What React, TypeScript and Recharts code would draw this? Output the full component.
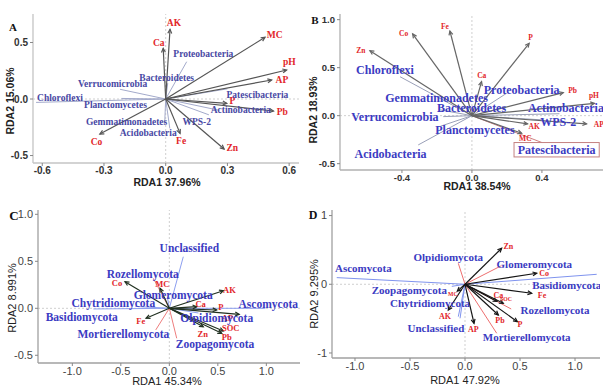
import { ScatterChart, Scatter, XAxis, YAxis, ReferenceLine } from 'recharts'

type Item = { name: string; x: number; y: number; lx: number; ly: number }

// A: bacteria, RDA1 37.96% / RDA2 15.06%
const envA: Item[] = [
  { name: 'AK', x: 0.021, y: 0.617, lx: 0.04, ly: 0.675 },
  { name: 'Ca', x: -0.012, y: 0.449, lx: -0.034, ly: 0.498 },
  { name: 'MC', x: 0.483, y: 0.546, lx: 0.53, ly: 0.566 },
  { name: 'pH', x: 0.588, y: 0.257, lx: 0.601, ly: 0.325 },
  { name: 'AP', x: 0.515, y: 0.168, lx: 0.565, ly: 0.168 },
  { name: 'P', x: 0.297, y: -0.038, lx: 0.324, ly: -0.018 },
  { name: 'Pb', x: 0.524, y: -0.106, lx: 0.567, ly: -0.118 },
  { name: 'Zn', x: 0.284, y: -0.442, lx: 0.324, ly: -0.431 },
  { name: 'Fe', x: 0.07, y: -0.304, lx: 0.075, ly: -0.372 },
  { name: 'Co', x: -0.32, y: -0.31, lx: -0.336, ly: -0.378 },
]
const taxaA: Item[] = [
  { name: 'Proteobacteria', x: 0.102, y: 0.33, lx: 0.183, ly: 0.395 },
  { name: 'Bacteroidetes', x: 0.01, y: 0.14, lx: 0.005, ly: 0.189 },
  { name: 'Verrucomicrobia', x: -0.222, y: 0.086, lx: -0.258, ly: 0.13 },
  { name: 'Chloroflexi', x: -0.63, y: -0.03, lx: -0.514, ly: 0.012 },
  { name: 'Planctomycetes', x: -0.215, y: 0.005, lx: -0.244, ly: -0.056 },
  { name: 'Gemmatimonadetes', x: -0.005, y: -0.22, lx: -0.19, ly: -0.204 },
  { name: 'Acidobacteria', x: 0.02, y: -0.26, lx: -0.085, ly: -0.298 },
  { name: 'Patescibacteria', x: 0.3, y: 0.09, lx: 0.446, ly: 0.035 },
  { name: 'Actinobacteria', x: 0.26, y: -0.1, lx: 0.365, ly: -0.1 },
  { name: 'WPS-2', x: 0.21, y: -0.14, lx: 0.151, ly: -0.206 },
]

// B: bacteria, RDA1 38.54% / RDA2 18.93%
const envB: Item[] = [
  { name: 'Co', x: -0.339, y: 0.851, lx: -0.39, ly: 0.86 },
  { name: 'Fe', x: -0.126, y: 0.882, lx: -0.154, ly: 0.934 },
  { name: 'Zn', x: -0.583, y: 0.677, lx: -0.635, ly: 0.68 },
  { name: 'P', x: 0.327, y: 0.754, lx: 0.335, ly: 0.813 },
  { name: 'Ca', x: 0.055, y: 0.354, lx: 0.056, ly: 0.42 },
  { name: 'Pb', x: 0.522, y: 0.24, lx: 0.575, ly: 0.26 },
  { name: 'pH', x: 0.7, y: 0.128, lx: 0.697, ly: 0.205 },
  { name: 'AP', x: 0.655, y: -0.085, lx: 0.725, ly: -0.09 },
  { name: 'AK', x: 0.318, y: -0.086, lx: 0.356, ly: -0.116 },
  { name: 'MC', x: 0.284, y: -0.183, lx: 0.305, ly: -0.243 },
]
const taxaB: Item[] = [
  { name: 'Chloroflexi', x: -0.411, y: 0.406, lx: -0.497, ly: 0.476 },
  { name: 'Gemmatimonadetes', x: -0.18, y: 0.06, lx: -0.202, ly: 0.188 },
  { name: 'Bacteroidetes', x: -0.03, y: 0.06, lx: -0.002, ly: 0.077 },
  { name: 'Verrucomicrobia', x: -0.164, y: -0.01, lx: -0.44, ly: -0.01 },
  { name: 'Planctomycetes', x: -0.18, y: -0.11, lx: 0.017, ly: -0.149 },
  { name: 'Acidobacteria', x: -0.307, y: -0.305, lx: -0.465, ly: -0.399 },
  { name: 'Proteobacteria', x: 0.198, y: 0.233, lx: 0.284, ly: 0.268 },
  { name: 'Actinobacteria', x: 0.5, y: 0.02, lx: 0.537, ly: 0.077 },
  { name: 'WPS-2', x: 0.41, y: -0.045, lx: 0.493, ly: -0.062 },
  { name: 'Patescibacteria', x: 0.4, y: -0.28, lx: 0.484, ly: -0.355 },
]

// C: fungi, RDA1 45.34% / RDA2 8.991%
const envC: Item[] = [
  { name: 'Co', x: -0.457, y: 0.283, lx: -0.54, ly: 0.27 },
  { name: 'MC', x: -0.096, y: 0.213, lx: -0.072, ly: 0.262 },
  { name: 'AK', x: 0.557, y: 0.187, lx: 0.62, ly: 0.19 },
  { name: 'Ca', x: 0.282, y: 0.017, lx: 0.323, ly: 0.046 },
  { name: 'P', x: 0.488, y: -0.018, lx: 0.53, ly: 0.01 },
  { name: 'AP', x: 0.72, y: -0.065, lx: 0.6, ly: -0.1 },
  { name: 'Fe', x: -0.24, y: -0.106, lx: -0.295, ly: -0.135 },
  { name: 'SOC', x: 0.557, y: -0.241, lx: 0.633, ly: -0.213 },
  { name: 'Pb', x: 0.54, y: -0.266, lx: 0.592, ly: -0.309 },
  { name: 'Zn', x: 0.35, y: -0.196, lx: 0.344, ly: -0.278 },
]
const taxaC: Item[] = [
  { name: 'Unclassified', x: 0.144, y: 0.549, lx: 0.206, ly: 0.645 },
  { name: 'Rozellomycota', x: -0.165, y: 0.319, lx: -0.274, ly: 0.365 },
  { name: 'Glomeromycota', x: -0.02, y: 0.12, lx: 0.04, ly: 0.141 },
  { name: 'Chytridiomycota', x: -0.35, y: 0.02, lx: -0.577, ly: 0.053 },
  { name: 'Basidiomycota', x: -0.783, y: -0.007, lx: -0.903, ly: -0.089 },
  { name: 'Ascomycota', x: 0.99, y: 0.0, lx: 1.02, ly: 0.042 },
  { name: 'Olpidiomycota', x: 0.3, y: -0.05, lx: 0.489, ly: -0.106 },
  { name: 'Mortierellomycota', x: -0.14, y: -0.23, lx: -0.474, ly: -0.277 },
  { name: 'Zoopagomycota', x: 0.076, y: -0.319, lx: 0.471, ly: -0.383 },
]
const redC = ['Rozellomycota', 'Mortierellomycota', 'Zoopagomycota']

// D: fungi, RDA1 47.92% / RDA2 9.295%
const envD: Item[] = [
  { name: 'Zn', x: 0.333, y: 0.524, lx: 0.394, ly: 0.548 },
  { name: 'Co', x: 0.652, y: 0.16, lx: 0.72, ly: 0.16 },
  { name: 'Fe', x: 0.606, y: -0.131, lx: 0.7, ly: -0.17 },
  { name: 'Ca', x: 0.29, y: -0.25, lx: 0.303, ly: -0.165 },
  { name: 'SOC', x: 0.348, y: -0.277, lx: 0.373, ly: -0.218 },
  { name: 'Pb', x: 0.303, y: -0.447, lx: 0.318, ly: -0.534 },
  { name: 'P', x: 0.476, y: -0.544, lx: 0.5, ly: -0.592 },
  { name: 'AK', x: -0.152, y: -0.374, lx: -0.182, ly: -0.471 },
  { name: 'AP', x: 0.082, y: -0.568, lx: 0.076, ly: -0.665 },
  { name: 'MC', x: -0.07, y: -0.1, lx: -0.11, ly: -0.14 },
]
const taxaD: Item[] = [
  { name: 'Ascomycota', x: -1.166, y: 0.097, lx: -0.924, ly: 0.233 },
  { name: 'Basidiomycota', x: 1.197, y: 0.145, lx: 0.924, ly: -0.01 },
  { name: 'Olpidiomycota', x: -0.061, y: 0.305, lx: -0.152, ly: 0.393 },
  { name: 'Glomeromycota', x: 0.33, y: 0.27, lx: 0.63, ly: 0.291 },
  { name: 'Zoopagomycota', x: -0.12, y: -0.03, lx: -0.506, ly: -0.083 },
  { name: 'Chytridiomycota', x: -0.061, y: -0.471, lx: -0.318, ly: -0.277 },
  { name: 'Rozellomycota', x: 0.42, y: -0.36, lx: 0.818, ly: -0.374 },
  { name: 'Unclassified', x: -0.045, y: -0.495, lx: -0.264, ly: -0.641 },
  { name: 'Mortierellomycota', x: 0.288, y: -0.713, lx: 0.561, ly: -0.762 },
]
const redD = ['Olpidiomycota', 'Glomeromycota', 'Rozellomycota', 'Mortierellomycota']
const tinyD = ['SOC', 'MC']

const SERIF = '"Liberation Serif", "Times New Roman", serif'
const SANS = '"Liberation Sans", Arial, sans-serif'
const BLUE = '#3b3bc2'
const RED = '#e2262a'

function arrow(color: string, w: number, head: number) {
  return (p: any) => {
    const { x1, y1, x2, y2 } = p
    const a = Math.atan2(y2 - y1, x2 - x1)
    const hx1 = x2 - head * Math.cos(a - 0.45)
    const hy1 = y2 - head * Math.sin(a - 0.45)
    const hx2 = x2 - head * Math.cos(a + 0.45)
    const hy2 = y2 - head * Math.sin(a + 0.45)
    return (
      <g>
        <line x1={x1} y1={y1} x2={x2} y2={y2} stroke={color} strokeWidth={w} />
        {head > 0 && (
          <path d={`M${hx1},${hy1}L${x2},${y2}L${hx2},${hy2}`} fill="none" stroke={color} strokeWidth={w} />
        )}
      </g>
    )
  }
}

interface Look {
  tickSize: number
  tickWeight: string
  tickColor: string
  titleSize: number
  titleWeight: string
  taxaSize: number
  taxaColor: string
  envSize: number
  envLine: string
  taxaLine: string
  redLine: string
  redTaxa: string[]
  boxed: string[]
  tiny: string[]
  border: string
}

interface PanelProps {
  letter: string
  left: number
  top: number
  width: number
  height: number
  mTop: number
  mRight: number
  yw: number
  xh: number
  xDomain: [number, number]
  yDomain: [number, number]
  xTicks: number[]
  yTicks: number[]
  yDigits: number
  xTitle: string
  yTitle: string
  xTitleAt: [number, number]
  yTitleAt: [number, number]
  letterAt: [number, number]
  letterSize: number
  env: Item[]
  taxa: Item[]
  look: Look
}

function Panel(p: PanelProps) {
  const L = p.look
  const tick = { fontSize: L.tickSize, fontWeight: L.tickWeight, fill: L.tickColor, fontFamily: SANS }
  const titleStyle = { fontSize: L.titleSize, fontWeight: L.titleWeight, fill: '#222', fontFamily: SANS }
  const frame = { stroke: L.border, strokeWidth: 1.3 }

  const envLabels = p.env.map((d) => ({ x: d.lx, y: d.ly, name: d.name }))
  const taxaLabels = p.taxa.map((d) => ({ x: d.lx, y: d.ly, name: d.name }))

  return (
    <div style={{ position: 'absolute', left: p.left, top: p.top }}>
      <ScatterChart
        width={p.width}
        height={p.height}
        margin={{ top: p.mTop, right: p.mRight, bottom: 0, left: 0 }}
      >
        <XAxis
          type="number"
          dataKey="x"
          domain={p.xDomain}
          ticks={p.xTicks}
          allowDataOverflow
          height={p.xh}
          axisLine={frame}
          tickSize={3}
          tickMargin={1}
          tickLine={{ stroke: '#888' }}
          tick={tick}
          tickFormatter={(v: number) => v.toFixed(1)}
          label={{
            content: () => (
              <text x={p.xTitleAt[0]} y={p.xTitleAt[1]} textAnchor="middle" dominantBaseline="central" style={titleStyle}>
                {p.xTitle}
              </text>
            ),
          }}
        />
        <XAxis
          xAxisId="top"
          orientation="top"
          type="number"
          domain={p.xDomain}
          allowDataOverflow
          height={0}
          axisLine={frame}
          tick={false}
          tickLine={false}
        />
        <YAxis
          type="number"
          dataKey="y"
          domain={p.yDomain}
          ticks={p.yTicks}
          allowDataOverflow
          width={p.yw}
          axisLine={frame}
          tickSize={3}
          tickMargin={2}
          tickLine={{ stroke: '#888' }}
          tick={tick}
          tickFormatter={(v: number) => v.toFixed(p.yDigits)}
          label={{
            content: () => (
              <g>
                <text
                  x={p.yTitleAt[0]}
                  y={p.yTitleAt[1]}
                  transform={`rotate(-90 ${p.yTitleAt[0]} ${p.yTitleAt[1]})`}
                  textAnchor="middle"
                  dominantBaseline="central"
                  style={titleStyle}
                >
                  {p.yTitle}
                </text>
                <text
                  x={p.letterAt[0]}
                  y={p.letterAt[1]}
                  textAnchor="middle"
                  dominantBaseline="central"
                  style={{ fontSize: p.letterSize, fontWeight: 'bold', fill: '#111', fontFamily: SERIF }}
                >
                  {p.letter}
                </text>
              </g>
            ),
          }}
        />
        <YAxis
          yAxisId="right"
          orientation="right"
          type="number"
          domain={p.yDomain}
          allowDataOverflow
          width={0}
          axisLine={frame}
          tick={false}
          tickLine={false}
        />
        <ReferenceLine x={0} stroke="#cfcfcf" strokeDasharray="2 2" />
        <ReferenceLine y={0} stroke="#cfcfcf" strokeDasharray="2 2" />
        {p.taxa.map((d) => (
          <ReferenceLine
            key={'t' + d.name}
            segment={[{ x: 0, y: 0 }, { x: d.x, y: d.y }]}
            ifOverflow="visible"
            shape={arrow(L.redTaxa.includes(d.name) ? L.redLine : L.taxaLine, 1, 0)}
          />
        ))}
        {p.env.map((d) => (
          <ReferenceLine
            key={'e' + d.name}
            segment={[{ x: 0, y: 0 }, { x: d.x, y: d.y }]}
            ifOverflow="visible"
            shape={arrow(L.envLine, 1.2, 4.5)}
          />
        ))}
        <Scatter
          data={envLabels}
          isAnimationActive={false}
          shape={(s: any) => (
            <text
              x={s.cx}
              y={s.cy}
              textAnchor="middle"
              dominantBaseline="central"
              style={{
                fontSize: L.tiny.includes(s.payload.name) ? L.envSize * 0.72 : L.envSize,
                fontWeight: 'bold',
                fill: RED,
                fontFamily: SERIF,
              }}
            >
              {s.payload.name}
            </text>
          )}
        />
        <Scatter
          data={taxaLabels}
          isAnimationActive={false}
          shape={(s: any) => {
            const name: string = s.payload.name
            const w = name.length * L.taxaSize * 0.44 + 6
            return (
              <g>
                {L.boxed.includes(name) && (
                  <rect
                    x={s.cx - w / 2}
                    y={s.cy - L.taxaSize * 0.6}
                    width={w}
                    height={L.taxaSize * 1.2}
                    fill="none"
                    stroke="#c48080"
                    strokeWidth={1}
                  />
                )}
                <text
                  x={s.cx}
                  y={s.cy}
                  textAnchor="middle"
                  dominantBaseline="central"
                  style={{ fontSize: L.taxaSize, fontWeight: 'bold', fill: L.taxaColor, fontFamily: SERIF }}
                >
                  {name}
                </text>
              </g>
            )
          }}
        />
      </ScatterChart>
    </div>
  )
}

const lookA: Look = {
  tickSize: 10, tickWeight: 'bold', tickColor: '#333', titleSize: 10.5, titleWeight: 'bold',
  taxaSize: 9.5, taxaColor: '#4848a4', envSize: 9.5, envLine: '#555', taxaLine: '#a3aacb',
  redLine: '#e07a7a', redTaxa: [], boxed: [], tiny: [], border: '#c4c4c4',
}
const lookB: Look = {
  tickSize: 9.5, tickWeight: 'bold', tickColor: '#333', titleSize: 10.5, titleWeight: 'bold',
  taxaSize: 12, taxaColor: BLUE, envSize: 7.5, envLine: '#666', taxaLine: '#9aa0b8',
  redLine: '#d08080', redTaxa: ['Patescibacteria'], boxed: ['Patescibacteria'], tiny: [], border: '#b0b0b0',
}
const lookC: Look = {
  tickSize: 11, tickWeight: 'normal', tickColor: '#444', titleSize: 11, titleWeight: 'normal',
  taxaSize: 11.5, taxaColor: BLUE, envSize: 8.5, envLine: '#203020', taxaLine: '#8d9ff0',
  redLine: '#ee7d7d', redTaxa: redC, boxed: [], tiny: [], border: '#a0a0a0',
}
const lookD: Look = {
  tickSize: 11, tickWeight: 'normal', tickColor: '#444', titleSize: 11, titleWeight: 'normal',
  taxaSize: 11, taxaColor: BLUE, envSize: 8, envLine: '#151515', taxaLine: '#7f93ee',
  redLine: '#ee6f6f', redTaxa: redD, boxed: [], tiny: tinyD, border: '#a0a0a0',
}

export default function App() {
  return (
    <div style={{ position: 'absolute', left: 0, top: 0, width: 605, height: 386, background: '#fff' }}>
      <Panel
        letter="A" left={0} top={0} width={302} height={193} mTop={14} mRight={3} yw={33} xh={30}
        xDomain={[-0.645, 0.648]} yDomain={[-0.566, 0.752]}
        xTicks={[-0.6, -0.3, 0, 0.3, 0.6]} yTicks={[-0.5, 0, 0.5]} yDigits={1}
        xTitle="RDA1 37.96%" yTitle="RDA2 15.06%"
        xTitleAt={[167, 182]} yTitleAt={[10, 101]} letterAt={[13, 27]} letterSize={11}
        env={envA} taxa={taxaA} look={lookA}
      />
      <Panel
        letter="B" left={302} top={0} width={303} height={193} mTop={14} mRight={2} yw={38} xh={23}
        xDomain={[-0.754, 0.749]} yDomain={[-0.566, 1.059]}
        xTicks={[-0.4, 0, 0.4]} yTicks={[-0.5, 0, 0.5, 1]} yDigits={1}
        xTitle="RDA1 38.54%" yTitle="RDA2 18.93%"
        xTitleAt={[175, 186]} yTitleAt={[11, 110]} letterAt={[13, 20]} letterSize={11}
        env={envB} taxa={taxaB} look={lookB}
      />
      <Panel
        letter="C" left={0} top={193} width={302} height={193} mTop={17} mRight={2} yw={38} xh={23}
        xDomain={[-1.354, 1.347]} yDomain={[-0.582, 1.046]}
        xTicks={[-1, -0.5, 0, 0.5, 1]} yTicks={[-0.5, 0, 0.5, 1]} yDigits={1}
        xTitle="RDA1 45.34%" yTitle="RDA2 8.991%"
        xTitleAt={[167, 188]} yTitleAt={[12, 105]} letterAt={[14, 22]} letterSize={13}
        env={envC} taxa={taxaC} look={lookC}
      />
      <Panel
        letter="D" left={302} top={193} width={303} height={193} mTop={17} mRight={5} yw={30} xh={28}
        xDomain={[-1.209, 1.227]} yDomain={[-1.073, 1.081]}
        xTicks={[-1, -0.5, 0, 0.5, 1]} yTicks={[-1, 0, 1]} yDigits={0}
        xTitle="RDA1 47.92%" yTitle="RDA2 9.295%"
        xTitleAt={[163, 187]} yTitleAt={[12, 101]} letterAt={[11, 22]} letterSize={12}
        env={envD} taxa={taxaD} look={lookD}
      />
    </div>
  )
}
